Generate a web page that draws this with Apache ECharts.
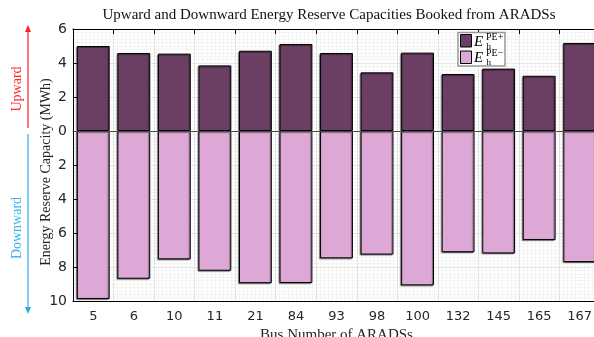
<!DOCTYPE html>
<html>
<head>
<meta charset="utf-8">
<script src="https://cdn.jsdelivr.net/npm/echarts@6/dist/echarts.min.js"></script>
<style>html,body{margin:0;padding:0;background:#fff;}#c{width:594px;height:337px;}</style>
</head>
<body>
<div id="c"></div>
<script>
const categories = ['5','6','10','11','21','84','93','98','100','132','145','165','167'];
const upwardValues = [5.0, 4.59, 4.55, 3.86, 4.72, 5.12, 4.59, 3.45, 4.61, 3.35, 3.67, 3.25, 5.18];
const downwardValues = [9.88, 8.69, 7.55, 8.22, 8.95, 8.94, 7.49, 7.27, 9.08, 7.13, 7.2, 6.41, 7.71];
const yTickMin = -10, yTickMax = 6, yTickStep = 2;

const chart = echarts.init(document.getElementById('c'), null, {renderer: 'canvas'});
const serif = 'Liberation Serif';
const txtCol = '#262626';
const shadow = {shadowColor: 'rgba(0,0,0,0.45)', shadowBlur: 1, shadowOffsetX: -1, shadowOffsetY: 1};

chart.setOption({
  animation: false,
  grid: {left: 73, right: -6, top: 29, bottom: 36, containLabel: false, outerBoundsMode: 'none'},
  xAxis: [
    {
      type: 'category', data: categories, position: 'bottom',
      axisLine: {onZero: false, lineStyle: {color: '#000', width: 1}},
      axisTick: {inside: true, length: 5, alignWithLabel: true, lineStyle: {color: '#000'}},
      axisLabel: {fontFamily: 'DejaVu Sans', fontSize: 13, color: txtCol, margin: 9},
      splitLine: {show: false},
      name: 'Bus Number of ARADSs', nameLocation: 'middle', nameGap: 23,
      nameTextStyle: {fontFamily: serif, fontSize: 15, color: txtCol}
    },
    {
      type: 'value', position: 'top', min: -1, max: 25, interval: 2,
      axisLine: {show: true, onZero: false, lineStyle: {color: '#000', width: 1}},
      axisTick: {show: true, inside: true, length: 5, lineStyle: {color: '#000'}},
      axisLabel: {show: false},
      splitLine: {show: true, lineStyle: {color: '#e2e2e2', width: 1}},
      minorTick: {show: false, splitNumber: 10},
      minorSplitLine: {show: true, lineStyle: {color: '#f4f4f4', width: 1}}
    },
    {
      type: 'category', data: categories, position: 'bottom',
      axisLine: {show: true, onZero: true, lineStyle: {color: '#4a4a4a', width: 1.2}},
      axisTick: {show: false}, axisLabel: {show: false}, splitLine: {show: false}, z: 5
    }
  ],
  yAxis: {
    type: 'value', min: yTickMin, max: yTickMax, interval: yTickStep,
    axisLine: {show: true, onZero: false, lineStyle: {color: '#000', width: 1}},
    axisTick: {show: true, inside: true, length: 5, lineStyle: {color: '#000'}},
    axisLabel: {fontFamily: 'DejaVu Sans', fontSize: 14, color: txtCol, margin: 6,
      formatter: v => String(Math.abs(v))},
    splitLine: {show: true, lineStyle: {color: '#e2e2e2', width: 1}},
    minorTick: {show: false, splitNumber: 10},
    minorSplitLine: {show: true, lineStyle: {color: '#f4f4f4', width: 1}}
  },
  series: [
    {
      name: 'up', type: 'bar', xAxisIndex: 0, data: upwardValues,
      barWidth: '81%', barGap: '-100%',
      itemStyle: Object.assign({color: '#6b3f63', borderColor: '#000', borderWidth: 1}, shadow)
    },
    {
      name: 'down', type: 'bar', xAxisIndex: 0, data: downwardValues.map(v => -v),
      barWidth: '81%', barGap: '-100%',
      itemStyle: Object.assign({color: '#dda8d6', borderColor: '#000', borderWidth: 1}, shadow)
    }
  ],
  graphic: [
    {type: 'text', x: 329, y: 15, style: {text: 'Upward and Downward Energy Reserve Capacities Booked from ARADSs',
      font: '15px "Liberation Serif"', fill: '#111', align: 'center', verticalAlign: 'middle'}},
    {type: 'text', x: 46, y: 172, rotation: Math.PI / 2, style: {text: 'Energy Reserve Capacity (MWh)',
      font: '14px "Liberation Serif"', fill: txtCol, align: 'center', verticalAlign: 'middle'}},
    {type: 'text', x: 17, y: 89, rotation: Math.PI / 2, style: {text: 'Upward',
      font: '14px "Liberation Serif"', fill: '#ff2b2b', align: 'center', verticalAlign: 'middle'}},
    {type: 'text', x: 17, y: 228, rotation: Math.PI / 2, style: {text: 'Downward',
      font: '14px "Liberation Serif"', fill: '#40b4ee', align: 'center', verticalAlign: 'middle'}},
    {type: 'line', shape: {x1: 28, y1: 30, x2: 28, y2: 128}, style: {stroke: '#ff3030', lineWidth: 1.3}},
    {type: 'polygon', shape: {points: [[28, 25], [25, 32], [31, 32]]}, style: {fill: '#ff2020'}},
    {type: 'line', shape: {x1: 28, y1: 134, x2: 28, y2: 309}, style: {stroke: '#40b4ee', lineWidth: 1.3}},
    {type: 'polygon', shape: {points: [[28, 314], [25, 307], [31, 307]]}, style: {fill: '#2aa8ea'}},
    {type: 'rect', shape: {x: 458, y: 32.5, width: 47, height: 33.5}, style: {fill: '#fff', stroke: '#999', lineWidth: 1.5}, z: 10},
    {type: 'rect', shape: {x: 460.5, y: 34.5, width: 11, height: 12.5}, style: {fill: '#6b3f63', stroke: '#000', lineWidth: 1}, z: 11},
    {type: 'rect', shape: {x: 460.5, y: 51, width: 11, height: 12.5}, style: {fill: '#dda8d6', stroke: '#000', lineWidth: 1}, z: 11},
    {type: 'text', x: 474, y: 42, style: {text: 'E', font: 'italic 15px "Liberation Serif"', fill: '#000', verticalAlign: 'middle'}, z: 11},
    {type: 'text', x: 486, y: 37, style: {text: 'PE+', font: '10px "Liberation Serif"', fill: '#000', verticalAlign: 'middle'}, z: 11},
    {type: 'text', x: 486.5, y: 47, style: {text: 'h', font: '9px "Liberation Serif"', fill: '#000', verticalAlign: 'middle'}, z: 11},
    {type: 'text', x: 474, y: 58, style: {text: 'E', font: 'italic 15px "Liberation Serif"', fill: '#000', verticalAlign: 'middle'}, z: 11},
    {type: 'text', x: 486, y: 53, style: {text: 'PE\u2212', font: '10px "Liberation Serif"', fill: '#000', verticalAlign: 'middle'}, z: 11},
    {type: 'text', x: 486.5, y: 63, style: {text: 'h', font: '9px "Liberation Serif"', fill: '#000', verticalAlign: 'middle'}, z: 11}
  ]
});
</script>
</body>
</html>
